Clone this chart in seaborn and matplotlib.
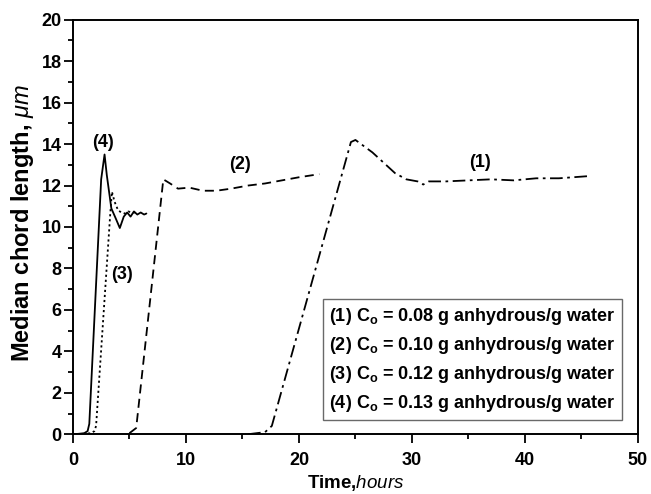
import matplotlib
matplotlib.use('Agg')
from matplotlib import pyplot as plt
from matplotlib.lines import Line2D
from matplotlib.ticker import MultipleLocator
import seaborn as sns
import pandas as pd

# (1) Co = 0.08, dash-dot
t1 = [15.5, 17.0, 17.6, 24.6, 25.0, 25.5, 26.5, 27.5, 28.5, 29.5, 30.5, 31.0, 31.5, 33.0, 35.0, 37.0, 39.0, 41.0, 43.0, 45.5]
y1 = [0.0, 0.1, 0.4, 14.1, 14.2, 14.0, 13.6, 13.1, 12.6, 12.3, 12.2, 12.05, 12.2, 12.2, 12.25, 12.3, 12.25, 12.35, 12.35, 12.45]
# (2) Co = 0.10, dashed
t2 = [5.0, 5.6, 8.0, 8.6, 9.3, 10.3, 11.5, 12.7, 14.0, 15.5, 17.0, 18.5, 20.0, 21.8]
y2 = [0.05, 0.3, 12.3, 12.1, 11.85, 11.9, 11.75, 11.75, 11.85, 12.0, 12.1, 12.25, 12.4, 12.55]
# (3) Co = 0.12, dotted
t3 = [0.0, 1.0, 1.6, 1.9, 2.05, 3.3, 3.45, 3.7, 4.0, 4.3, 4.6, 4.9, 5.2, 5.5]
y3 = [0.0, 0.02, 0.05, 0.15, 0.4, 10.6, 11.7, 11.2, 10.8, 10.7, 10.65, 10.75, 10.7, 10.7]
# (4) Co = 0.13, solid
t4 = [0.0, 0.5, 1.0, 1.3, 1.45, 2.5, 2.8, 3.0, 3.4, 3.8, 4.15, 4.5, 4.8, 5.1, 5.4, 5.7, 6.0, 6.3, 6.5]
y4 = [0.0, 0.02, 0.05, 0.15, 0.5, 12.3, 13.5, 12.5, 10.9, 10.4, 9.95, 10.5, 10.7, 10.5, 10.75, 10.6, 10.7, 10.6, 10.65]

labels = [r'(1) C$_\mathbf{o}$ = 0.08 g anhydrous/g water',
          r'(2) C$_\mathbf{o}$ = 0.10 g anhydrous/g water',
          r'(3) C$_\mathbf{o}$ = 0.12 g anhydrous/g water',
          r'(4) C$_\mathbf{o}$ = 0.13 g anhydrous/g water']

sns.set_style('ticks')
plt.rcParams['font.family'] = ['Liberation Sans', 'DejaVu Sans']
plt.rcParams['font.weight'] = 'bold'
plt.rcParams['text.color'] = 'black'
plt.rcParams['axes.labelcolor'] = 'black'
plt.rcParams['xtick.color'] = 'black'
plt.rcParams['ytick.color'] = 'black'
plt.rcParams['axes.edgecolor'] = 'black'
plt.rcParams['mathtext.fontset'] = 'custom'
plt.rcParams['mathtext.rm'] = 'Liberation Sans:bold'
plt.rcParams['mathtext.bf'] = 'Liberation Sans:bold'
plt.rcParams['mathtext.it'] = 'Liberation Sans:italic:normal'

fig, ax = plt.subplots(figsize=(6.51, 4.94), dpi=100)
fig.subplots_adjust(left=0.112, right=0.980, top=0.960, bottom=0.121)

series = [(t1, y1, (7, 2.5, 1.5, 2.5)), (t2, y2, (5, 3)),
          (t3, y3, (1.2, 1.6)), (t4, y4, None)]
for t, y, d in series:
    df = pd.DataFrame({'t': t, 'y': y})
    sns.lineplot(data=df, x='t', y='y', ax=ax, color='black', lw=1.3)
    if d is not None:
        ax.lines[-1].set_dashes(d)

ax.set_xlim(0, 50)
ax.set_ylim(0, 20)
ax.xaxis.set_major_locator(MultipleLocator(10))
ax.xaxis.set_minor_locator(MultipleLocator(5))
ax.yaxis.set_major_locator(MultipleLocator(2))
ax.yaxis.set_minor_locator(MultipleLocator(1))
ax.tick_params(which='major', length=6.5, width=1.3, labelsize=13, direction='out')
ax.tick_params(which='minor', length=3.8, width=1.3, direction='out')
ax.tick_params(axis='x', which='major', pad=6)
ax.tick_params(axis='y', which='major', pad=1.5)
for s in ax.spines.values():
    s.set_linewidth(1.4)

ax.set_xlabel(r'Time,$\mathit{hours}$', fontsize=13.5, fontweight='bold', labelpad=3)
ax.set_ylabel(r'Median chord length, $\mathit{\mu m}$', fontsize=17, fontweight='bold')
ax.yaxis.set_label_coords(-0.066, 0.51)

ax.text(2.65, 14.1, '(4)', ha='center', va='center', fontsize=13, fontweight='bold')
ax.text(4.3, 7.7, '(3)', ha='center', va='center', fontsize=13, fontweight='bold')
ax.text(14.8, 13.0, '(2)', ha='center', va='center', fontsize=13, fontweight='bold')
ax.text(36.0, 13.1, '(1)', ha='center', va='center', fontsize=13, fontweight='bold')

handles = [Line2D([], [], color='none') for _ in labels]
leg = ax.legend(handles, labels, loc='lower right', bbox_to_anchor=(0.988, 0.012),
                handlelength=0, handletextpad=0, fontsize=13, labelspacing=0.45,
                frameon=True, fancybox=False, borderpad=0.35)
leg.get_frame().set_edgecolor('#444444')
leg.get_frame().set_linewidth(1.0)

plt.savefig('out.png', dpi=100)
plt.close('all')
